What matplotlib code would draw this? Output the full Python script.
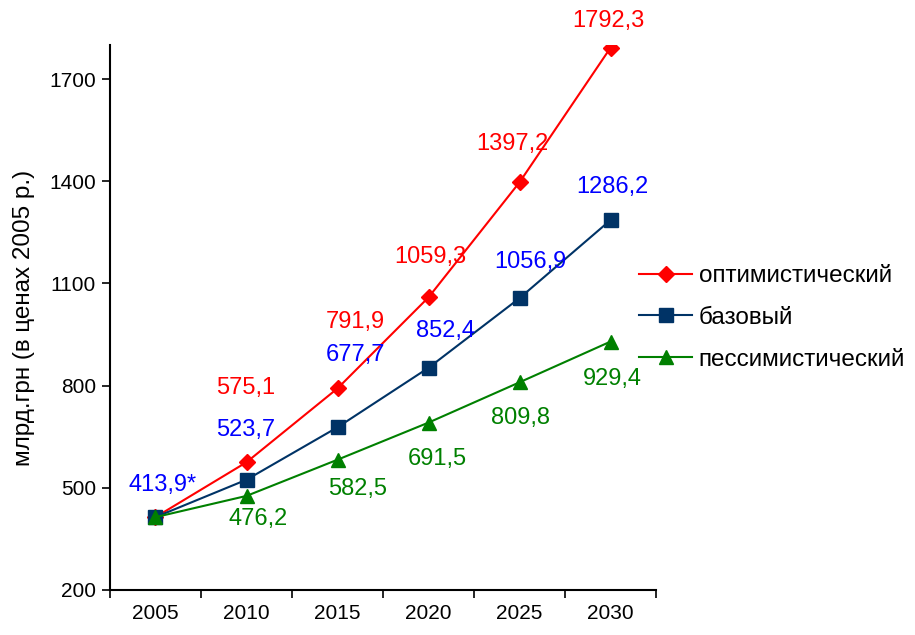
import matplotlib.pyplot as plt
import numpy as np

plt.rcParams['font.family'] = ['Liberation Sans', 'DejaVu Sans']

years = ['2005', '2010', '2015', '2020', '2025', '2030']
opt = [413.9, 575.1, 791.9, 1059.3, 1397.2, 1792.3]
base = [413.9, 523.7, 677.7, 852.4, 1056.9, 1286.2]
pess = [413.9, 476.2, 582.5, 691.5, 809.8, 929.4]
names = ['оптимистический', 'базовый', 'пессимистический']

# label offsets in pixels (None = no label)
opt_off = [None, (-1, 74), (18, 66), (2, 40), (-7, 38), (-2, 27)]
base_off = [(7, 32), (-1, 50), (18, 72), (17, 37), (11, 36), (2, 33)]
pess_off = [None, (12, -23), (20, -29), (9, -36), (1, -36), (2, -37)]

fig = plt.figure(figsize=(9.15, 6.35), dpi=100)
ax = fig.add_axes([0.1202, 0.0709, 0.5968, 0.8581])
x = np.arange(len(years))

ax.plot(x, opt, '-D', color='#FF0000', ms=8, lw=1.5, label=names[0])
ax.plot(x, base, '-s', color='#003366', ms=9.5, lw=1.5, label=names[1])
ax.plot(x, pess, '-^', color='#008000', ms=10.5, lw=1.5, label=names[2])

def fmt(v):
    return ('%.1f' % v).replace('.', ',')

for vals, offs, col in [(opt, opt_off, '#FF0000'), (base, base_off, '#0000FF'),
                        (pess, pess_off, '#008000')]:
    for i, (v, o) in enumerate(zip(vals, offs)):
        if o is None:
            continue
        txt = fmt(v) + ('*' if i == 0 else '')
        ax.annotate(txt, (i, v), xytext=o, textcoords='offset pixels',
                    ha='center', va='center', color=col, fontsize=17)

ax.set_xlim(-0.5, 5.5)
ax.set_ylim(200, 1800)
ax.set_yticks([200, 500, 800, 1100, 1400, 1700])
ax.set_xticks(x)
ax.set_xticklabels(years)
ax.set_xticks(np.arange(-0.5, 6, 1), minor=True)
ax.tick_params(axis='x', which='major', length=0, pad=10, labelsize=15)
ax.tick_params(axis='x', which='minor', length=6, width=1.2, direction='out')
ax.tick_params(axis='y', length=6, width=1.2, direction='out', labelsize=15, pad=4)
for s in ['top', 'right']:
    ax.spines[s].set_visible(False)
for s in ['left', 'bottom']:
    ax.spines[s].set_linewidth(1.5)

ax.set_ylabel('млрд.грн (в ценах 2005 р.)', fontsize=17.5, labelpad=10)

ax.legend(loc='upper left', bbox_to_anchor=(639 / 915, 1 - 265 / 635),
          bbox_transform=fig.transFigure, frameon=False, borderpad=0,
          borderaxespad=0, fontsize=17.5, handlelength=2.2,
          handletextpad=0.25, labelspacing=0.82)

fig.savefig('out.png', dpi=100)
